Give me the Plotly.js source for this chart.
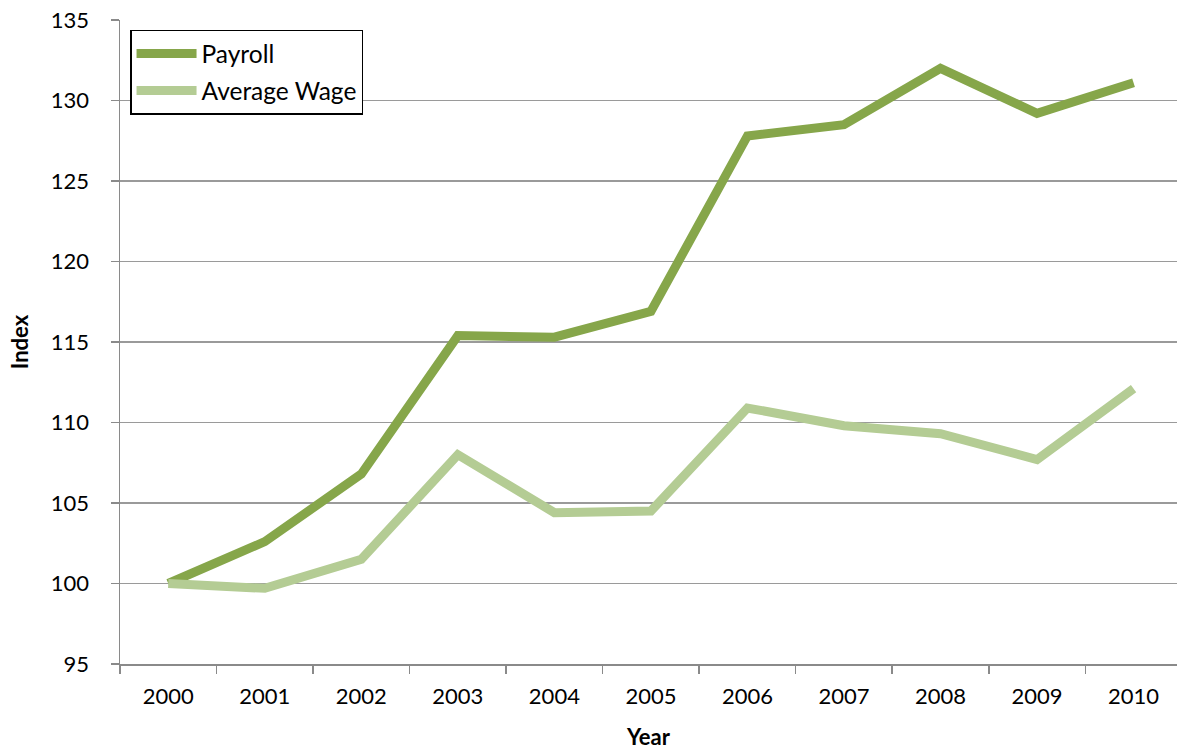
<!DOCTYPE html>
<html>
<head>
<meta charset="utf-8">
<script src="https://cdn.plot.ly/plotly-3.0.1.min.js"></script>
<style>html,body{margin:0;padding:0;background:#fff;}#chart{width:1177px;height:750px;}</style>
</head>
<body>
<div id="chart"></div>
<script>
const years = ["2000","2001","2002","2003","2004","2005","2006","2007","2008","2009","2010"];
const payroll = [100, 102.6, 106.8, 115.4, 115.3, 116.9, 127.8, 128.5, 132.0, 129.2, 131.1];
const averageWage = [100, 99.7, 101.5, 108.0, 104.4, 104.5, 110.9, 109.8, 109.3, 107.7, 112.1];

const font = "Lato, 'Open Sans', sans-serif";
const traces = [
  {x: years, y: payroll, name: "Payroll", type: "scatter", mode: "lines", legendgroup: "a",
   line: {color: "#86a64a", width: 9}},
  {x: years, y: averageWage, name: "Average Wage", type: "scatter", mode: "lines", legendgroup: "b",
   line: {color: "#b4cc94", width: 9}}
];
const layout = {
  width: 1177, height: 750,
  margin: {l: 120, r: 0, t: 20, b: 86},
  paper_bgcolor: "#fff", plot_bgcolor: "#fff",
  font: {family: font, size: 22, color: "#000"},
  showlegend: true,
  legend: {x: 0.0095, y: 0.985, xanchor: "left", yanchor: "top",
    bordercolor: "#000", borderwidth: 1.5, bgcolor: "#fff",
    font: {family: font, size: 24.5, color: "#000"}, itemwidth: 60,
    traceorder: "grouped", tracegroupgap: 2},
  xaxis: {type: "category", range: [-0.5, 10.45],
    showline: true, linecolor: "#8a8a8a", linewidth: 1.5,
    ticks: "outside", ticklen: 8, tickcolor: "#8a8a8a", tickwidth: 1.5,
    tickson: "boundaries", showgrid: false, zeroline: false,
    ticklabelstandoff: 12,
    tickfont: {family: font, size: 22, color: "#000"},
    title: {text: "<b>Year</b>", font: {family: font, size: 22, color: "#000"}, standoff: 24}},
  yaxis: {range: [95, 135], dtick: 5, tick0: 95,
    showline: true, linecolor: "#8a8a8a", linewidth: 1.5,
    ticks: "outside", ticklen: 8, tickcolor: "#8a8a8a", tickwidth: 1.5,
    showgrid: true, gridcolor: "#9a9a9a", gridwidth: 1.5, zeroline: false,
    ticklabelstandoff: 17,
    tickfont: {family: font, size: 22, color: "#000"},
    title: {text: "<b>Index</b>", font: {family: font, size: 22, color: "#000"}, standoff: 16}}
};
Plotly.newPlot("chart", traces, layout, {displayModeBar: false, staticPlot: true});
</script>
</body>
</html>
